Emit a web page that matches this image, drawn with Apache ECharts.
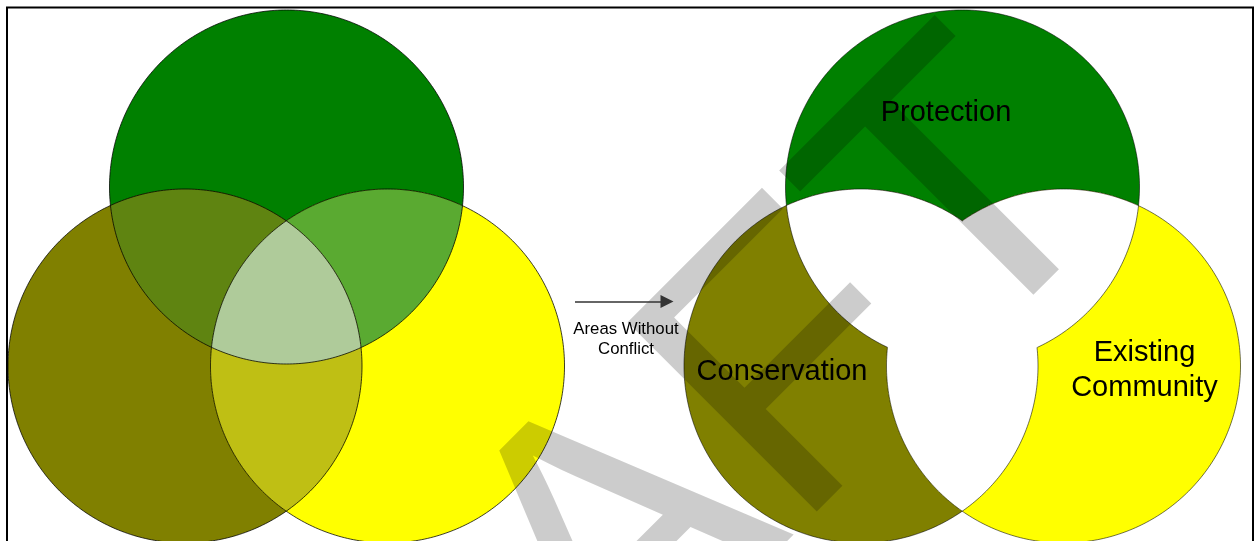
<!DOCTYPE html>
<html>
<head>
<meta charset="utf-8">
<title>Areas Without Conflict</title>
<style>
    html, body { margin: 0; padding: 0; background: #fff; }
    #main { width: 1255px; height: 541px; }
</style>
<script src="https://cdn.jsdelivr.net/npm/echarts@6/dist/echarts.min.js"></script>
</head>
<body>
<div id="main"></div>
<script>
// the three sets, in chart units (the hidden axes run 0..1255 and 0..541)
const setNames = ['Protection', 'Conservation', 'Existing Community'];
const centerX = [286.5, 185, 387.5];
const centerY = [187, 366, 366];
const radius = [177, 177, 177];
const rightShift = 676;

// regions painted on each side, as lists of set indices
const leftRegions = [[0], [1], [2], [0, 1], [0, 2], [1, 2], [0, 1, 2]];
const rightRegions = [[0], [1], [2], [0, 1], [0, 2], [1, 2]];

// arrow between the two diagrams
const arrowFrom = [575, 301.5];
const arrowTo = [667, 301.5];
const arrowText = 'Areas Without\nConflict';
const arrowTextAt = [626, 339];

const watermarkText = 'DRAFT';
const watermarkAt = [596, 580.5];

// colours
const leftColors = ['#008000', '#808000', '#ffff00', '#5f8411', '#5aaa31', '#bfbf14', '#afcb9a'];
const rightColors = ['#008000', '#808000', '#ffff00', '#ffffff', '#ffffff', '#ffffff'];
const labelOffset = [[-16.5, -74.5], [-79, 5.5], [81, 4.5]];
const FONT = '"Liberation Sans", Arial, sans-serif';
const STEPS = 360;

function circlePoints(api, k, shift) {
    const c = api.coord([centerX[k] + shift, centerY[k]]);
    const r = api.size([radius[k], 0])[0];
    const pts = [];
    for (let i = 0; i < STEPS; i++) {
        const a = 2 * Math.PI * i / STEPS;
        pts.push([c[0] + r * Math.cos(a), c[1] + r * Math.sin(a)]);
    }
    return { c: c, r: r, pts: pts };
}

// Sutherland-Hodgman, both polygons convex
function clip(subject, clipPoly) {
    let out = subject;
    for (let i = 0; i < clipPoly.length && out.length; i++) {
        const a = clipPoly[i], b = clipPoly[(i + 1) % clipPoly.length];
        const input = out;
        out = [];
        const side = function (p) {
            return (b[0] - a[0]) * (p[1] - a[1]) - (b[1] - a[1]) * (p[0] - a[0]);
        };
        for (let j = 0; j < input.length; j++) {
            const p = input[j], q = input[(j + 1) % input.length];
            const sp = side(p), sq = side(q);
            if (sp >= 0) out.push(p);
            if ((sp >= 0) !== (sq >= 0)) {
                const t = sp / (sp - sq);
                out.push([p[0] + t * (q[0] - p[0]), p[1] + t * (q[1] - p[1])]);
            }
        }
    }
    return out;
}

function regionSeries(regions, colors, shift, z) {
    return {
        type: 'custom',
        coordinateSystem: 'cartesian2d',
        z: z,
        silent: true,
        data: regions.map(function (m) { return [centerX[m[0]] + shift, centerY[m[0]]]; }),
        renderItem: function (params, api) {
            const set = regions[params.dataIndex];
            let poly = circlePoints(api, set[0], shift).pts;
            for (let i = 1; i < set.length; i++) {
                poly = clip(poly, circlePoints(api, set[i], shift).pts);
            }
            return {
                type: 'polygon',
                shape: { points: poly },
                style: { fill: colors[params.dataIndex], stroke: null }
            };
        }
    };
}

// outline of each circle; on the right side skip the part covered by white
function outlineSeries(shift, hideInner, color, z) {
    return {
        type: 'custom',
        coordinateSystem: 'cartesian2d',
        z: z,
        silent: true,
        data: setNames.map(function (n, k) { return [centerX[k] + shift, centerY[k]]; }),
        renderItem: function (params, api) {
            const k = params.dataIndex;
            const me = circlePoints(api, k, shift);
            const others = [0, 1, 2].filter(function (j) { return j !== k; })
                .map(function (j) { return circlePoints(api, j, shift); });
            const visible = me.pts.map(function (p) {
                if (!hideInner) return true;
                const inAll = others.every(function (o) {
                    return Math.hypot(p[0] - o.c[0], p[1] - o.c[1]) < o.r - 0.5;
                });
                return !inAll;
            });
            const children = [];
            let run = [];
            // start at a hidden point so runs do not break at angle 0
            let start = visible.indexOf(false);
            if (start < 0) start = 0;
            for (let i = 0; i <= STEPS; i++) {
                const idx = (start + i) % STEPS;
                if (visible[idx]) {
                    run.push(me.pts[idx]);
                } else if (run.length) {
                    children.push(run);
                    run = [];
                }
            }
            if (run.length) children.push(run);
            return {
                type: 'group',
                children: children.map(function (pts) {
                    return {
                        type: 'polyline',
                        shape: { points: pts },
                        style: { fill: null, stroke: color, lineWidth: 1 }
                    };
                })
            };
        }
    };
}

let myChart = echarts.init(document.getElementById('main'));
myChart.setOption({
    animation: false,
    backgroundColor: '#ffffff',
    grid: { left: 0, right: 0, top: 0, bottom: 0 },
    xAxis: { type: 'value', min: 0, max: 1255, show: false },
    yAxis: { type: 'value', min: 0, max: 541, inverse: true, show: false },
    graphic: [{
        type: 'rect',
        z: 100,
        silent: true,
        shape: { x: 7, y: 7.5, width: 1246, height: 600 },
        style: { fill: null, stroke: '#000', lineWidth: 2 }
    }],
    series: [
        regionSeries(leftRegions, leftColors, 0, 2),
        outlineSeries(0, false, 'rgba(0,0,0,0.75)', 3),
        regionSeries(rightRegions, rightColors, rightShift, 2),
        outlineSeries(rightShift, true, 'rgba(0,0,0,0.55)', 3),
        {
            type: 'custom',
            coordinateSystem: 'cartesian2d',
            z: 4,
            silent: true,
            data: [watermarkAt],
            renderItem: function (params, api) {
                const p = api.coord([api.value(0), api.value(1)]);
                return {
                    type: 'text',
                    x: p[0],
                    y: p[1],
                    rotation: Math.PI / 4,
                    style: {
                        text: watermarkText,
                        font: '389px ' + FONT,
                        fill: 'rgba(0,0,0,0.2)',
                        align: 'center',
                        verticalAlign: 'middle'
                    }
                };
            }
        },
        {
            type: 'custom',
            coordinateSystem: 'cartesian2d',
            z: 5,
            silent: true,
            data: setNames.map(function (n, k) {
                return [centerX[k] + rightShift + labelOffset[k][0], centerY[k] + labelOffset[k][1]];
            }),
            renderItem: function (params, api) {
                const p = api.coord([api.value(0), api.value(1)]);
                return {
                    type: 'text',
                    x: p[0],
                    y: p[1],
                    style: {
                        text: setNames[params.dataIndex].replace(' ', '\n'),
                        font: '29px ' + FONT,
                        lineHeight: 35,
                        fill: '#000',
                        align: 'center',
                        verticalAlign: 'middle'
                    }
                };
            }
        },
        {
            type: 'custom',
            coordinateSystem: 'cartesian2d',
            z: 5,
            silent: true,
            data: [arrowTextAt],
            renderItem: function (params, api) {
                const p = api.coord([api.value(0), api.value(1)]);
                return {
                    type: 'text',
                    x: p[0],
                    y: p[1],
                    style: {
                        text: arrowText,
                        font: '16.8px ' + FONT,
                        lineHeight: 20,
                        fill: '#000',
                        align: 'center',
                        verticalAlign: 'middle'
                    }
                };
            }
        },
        {
            type: 'lines',
            coordinateSystem: 'cartesian2d',
            z: 5,
            silent: true,
            symbol: ['none', 'triangle'],
            symbolSize: [14, 13],
            lineStyle: { color: '#333', width: 1.5, opacity: 1 },
            itemStyle: { color: '#000' },
            data: [{ coords: [arrowFrom, arrowTo] }]
        }
    ]
});
</script>
</body>
</html>
